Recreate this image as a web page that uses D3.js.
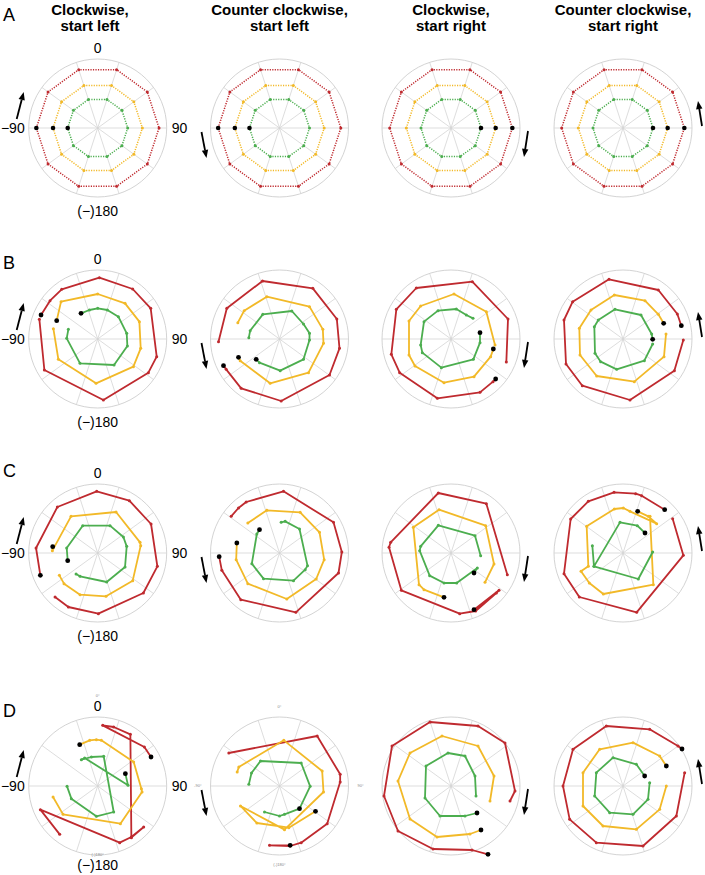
<!DOCTYPE html>
<html><head><meta charset="utf-8">
<script src="https://cdn.jsdelivr.net/npm/d3@7"></script>
<style>body{margin:0;background:#fff}text{font-family:Arial,"Liberation Sans",Helvetica,sans-serif}</style>
</head><body>
<svg id="c" width="705" height="875"></svg>
<script>
// ---------- DATA ----------
const columnTitles = [["Clockwise,","start left"],["Counter clockwise,","start left"],["Clockwise,","start right"],["Counter clockwise,","start right"]];
const rowLetters = ["A","B","C","D"];
const axisLabels = {top:"0", left:"\u221290", right:"90", bottom:"(\u2212)180"};
const tinyLabels = {top:"0\u00b0", left:"-90\u00b0", right:"90\u00b0", bottom:"(-)180\u00b0"};
// targets (deg, 0 = up, clockwise positive) and ring eccentricities (deg)
const targetAngles = [-90,-54,-18,18,54,90,126,162,198,234];
const ringRadius = {red:18.4, yellow:13.4, green:9.0};
const startAngleA = [-90,-90,90,90];
// gaze traces (x,y in deg; first point = start, unless start index given)
const B1 = {
 red:[[-17.0,7.2],[-14.3,11.5],[-10.8,14.9],[0.5,18.4],[10.5,15.0],[15.9,9.2],[17.7,-5.3],[15.2,-10.1],[1.7,-18.3],[-16.0,-9.3],[-17.5,5.9]],
 yellow:[[-12.3,5.5],[-11.0,11.2],[0,13.5],[8.2,10.7],[12.5,5.2],[12.9,-2.8],[10.7,-8.3],[-0.5,-13.3],[-11.8,-6.1],[-13.3,3.1]],
 green:[[-5.0,7.7],[-2.5,8.7],[0,9.2],[2.9,8.7],[6.2,6.7],[8.7,1.7],[8.9,-2.1],[4.9,-7.8],[-5.3,-7.3],[-9.3,0.2],[-8.8,2.9]]
};
const B2 = {
 red:[[-16.8,-8.0],[-16.0,-9.1],[-11.5,-14.8],[0.5,-18.6],[15.0,-10.8],[18.0,-2.8],[17.2,6.0],[10.0,15.2],[-5.1,17.4],[-15.8,9.2],[-18.3,-0.8]],
 yellow:[[-12.3,-5.5],[-11.8,-6.5],[-2.8,-13.3],[8.7,-10.1],[13.2,-1.3],[13.0,2.9],[9.0,9.7],[-3.8,12.7],[-10.6,8.5],[-12.5,4.9]],
 green:[[-7.0,-6.1],[-6.0,-7.1],[0.2,-9.5],[7.2,-6.1],[9.0,-0.3],[9.0,1.7],[7.2,4.5],[3.7,8.4],[-5.0,7.4],[-8.8,2.5],[-9.2,0.4]]
};
const B3 = {
 red:[[13.4,-12.0],[12.6,-12.8],[8.7,-16.0],[-4.1,-17.8],[-15.4,-10.1],[-17.9,-4.6],[-16.4,8.9],[-10.4,15.3],[6.4,17.2],[17.1,6.0],[16.6,-6.9]],
 yellow:[[12.7,-3.0],[11.9,-5.3],[6.9,-11.3],[-2.1,-13.1],[-10.8,-8.1],[-12.6,-4.8],[-12.6,5.4],[-9.1,9.9],[0.9,13.5],[10.6,8.2],[13.2,-1.8]],
 green:[[8.7,1.9],[8.7,-1.1],[6.7,-6.1],[-2.9,-8.6],[-8.6,-4.1],[-9.1,-1.8],[-8.1,5.2],[-3.9,8.5],[1.6,9.0],[4.6,7.2],[6.6,6.2]]
};
const B4 = {
 red:[[17.5,4.0],[16.3,7.5],[10.6,14.7],[-4.2,17.9],[-15.1,11.2],[-17.7,5.7],[-17.1,-7.5],[-12.2,-14.0],[2.1,-18.3],[15.4,-9.5],[18.1,-0.3]],
 yellow:[[12.2,4.7],[10.6,7.4],[6.6,11.5],[-2.6,13.2],[-9.6,8.7],[-13.1,3.2],[-12.9,-4.8],[-7.9,-11.1],[3.4,-12.8],[12.3,-5.3],[12.9,1.5]],
 green:[[8.9,-0.1],[8.6,1.5],[5.4,7.2],[-2.4,8.9],[-7.4,5.7],[-8.6,3.7],[-8.4,-4.3],[-6.7,-6.8],[-1.9,-9.1],[6.4,-6.5],[8.9,-1.5]]
};
const C1 = {
 red:[[-17.2,-6.7],[-18.5,1.5],[-12.1,13.8],[-0.3,18.5],[9.5,15.7],[16.0,8.7],[17.9,-4.0],[13.7,-12.0],[0.2,-18.2],[-8.8,-16.2],[-12.8,-13.2]],
 yellow:[[-13.5,1.9],[-13.6,0.7],[-8.0,11.0],[5.5,12.3],[12.7,3.2],[12.9,2.2],[10.5,-8.3],[2.5,-13.0],[-5.3,-12.5],[-10.1,-9.2],[-11.5,-6.7]],
 green:[[-9.0,-2.3],[-9.3,1.5],[-4.5,8.2],[3.7,8.2],[7.7,4.8],[8.7,2.0],[8.2,-4.2],[2.7,-8.7],[-5.3,-7.0],[-6.5,-6.3]]
};
const C2 = {
 red:[[-18.1,-1.1],[-17.3,-5.2],[-11.6,-14.0],[4.9,-17.8],[17.7,-6.0],[18.7,0.3],[16.2,9.2],[1.2,18.5],[-10.0,15.3],[-12.3,13.5],[-14.5,11.0]],
 yellow:[[-12.8,3.0],[-13.0,-2.0],[-9.5,-9.2],[2.2,-13.8],[11.0,-7.8],[13.4,-2.0],[12.0,6.2],[6.2,12.2],[-3.8,12.8],[-9.5,9.0]],
 green:[[-6.0,7.0],[-6.8,5.7],[-8.3,-3.2],[-4.8,-7.7],[4.2,-8.3],[7.7,-5.0],[8.4,-3.8],[6.0,7.2],[1.7,9.5],[0.5,9.2]]
};
const C3 = {
 red:[[6.9,-17.0],[14.4,-11.2],[13.6,-12.0],[7.4,-17.4],[2.6,-18.2],[-14.9,-11.2],[-18.6,1.7],[-18.1,3.2],[-3.8,18.0],[10.6,14.8],[16.9,-6.5]],
 yellow:[[-2.1,-13.3],[-8.1,-11.0],[-9.6,-9.5],[-11.3,7.7],[-3.6,13.0],[10.4,8.2],[12.9,-3.3],[10.2,-8.8]],
 green:[[6.9,-6.0],[7.9,-4.5],[1.7,-9.0],[-2.1,-9.0],[-6.4,-6.8],[-9.4,0.7],[-9.1,2.0],[-3.8,8.3],[7.2,5.2],[8.9,-0.8]]
};
const C4 = {
 red:[[12.5,13.0],[5.6,17.2],[3.8,17.8],[-2.7,18.2],[-10.4,15.5],[-15.7,10.2],[-17.7,-6.2],[-13.1,-13.2],[4.1,-17.8],[18.1,-0.7],[14.9,10.3]],
 yellow:[[4.4,12.5],[7.6,11.0],[10.1,8.8],[2.1,12.5],[0.1,13.5],[-2.6,13.2],[-10.9,8.0],[-10.4,-4.0],[-12.6,-5.5],[-10.1,-9.0],[-5.9,-12.3],[9.1,-9.5],[8.1,11.0]],
 green:[[6.6,6.0],[4.3,8.2],[-0.9,9.2],[-8.7,-4.0],[-9.2,2.2],[-8.7,-4.0],[4.6,-7.8],[8.9,0.3]]
};
const D1 = {
 red:[[16.0,8.7],[14.0,11.7],[1.5,18.2],[4.8,17.7],[9.8,15.5],[10.1,-15.5],[13.8,-12.3],[10.1,-15.3],[6.6,-17.0],[-17.2,-7.1],[-11.4,-14.5]],
 yellow:[[-5.4,12.4],[-2.4,13.7],[-0.4,13.9],[1.1,13.7],[10.8,7.2],[13.1,-0.8],[13.3,-1.8],[6.8,-11.3],[-10.4,-8.5],[-13.4,-3.3]],
 green:[[8.3,3.7],[9.1,0.2],[-3.9,8.4],[-4.9,7.9],[-1.9,8.7],[1.8,8.9],[4.8,-7.8],[-0.4,-9.1],[-7.9,-3.8],[-9.2,-0.1]]
};
const D2 = {
 red:[[3.2,-17.8],[-3.0,-17.8],[3.2,-18.0],[6.5,-17.0],[14.3,-11.3],[18.2,1.2],[18.2,3.5],[11.3,15.0],[-15.2,9.9]],
 yellow:[[10.8,-7.6],[2.8,-12.5],[-6.8,-11.1],[-11.7,-6.0],[1.5,-13.1],[13.2,-1.8],[12.8,4.5],[1.3,13.7],[-12.2,5.7],[-12.7,4.2]],
 green:[[-4.5,-7.8],[0,-9.0],[1.5,-8.5],[6.0,-6.8],[9.2,-0.1],[6.5,6.9],[-5.7,7.5],[-8.4,3.9],[-9.2,0.5]],
 start:{green:3}
};
const D3 = {
 red:[[11.1,-20.5],[6.3,-19.2],[-5.4,-18.9],[-15.9,-13.5],[-20.1,-3.0],[-17.7,12.0],[-6.3,19.2],[8.1,18.0],[16.2,12.9],[19.2,-1.5],[17.7,-4.5]],
 yellow:[[9.0,-13.2],[5.7,-14.4],[-4.2,-15.3],[-12.3,-9.9],[-15.9,1.5],[-12.3,9.9],[-2.7,15.0],[8.1,12.0],[12.9,3.0],[11.7,-4.5]],
 green:[[7.8,-8.1],[4.2,-9.0],[-3.3,-9.0],[-7.8,-3.6],[-7.5,6.0],[-0.9,9.9],[4.2,9.0],[7.2,3.0],[7.5,-3.0]]
};
const D4 = {
 red:[[17.7,11.1],[16.5,12.0],[8.0,17.0],[-5.0,18.0],[-15.0,11.0],[-18.0,0.0],[-16.0,-10.0],[-8.0,-17.0],[6.0,-18.0],[16.0,-9.0],[18.5,4.0]],
 yellow:[[13.0,6.0],[11.0,9.0],[3.0,13.0],[-7.0,11.0],[-12.0,4.0],[-12.0,-6.0],[-6.0,-12.0],[4.0,-13.0],[11.0,-7.0],[13.0,0.0]],
 green:[[6.5,3.0],[4.0,6.5],[-3.0,8.5],[-8.0,4.0],[-8.5,-3.0],[-4.0,-8.0],[3.0,-8.5],[7.5,-4.0],[8.0,1.0]]
};
const traceRows = [[B1,B2,B3,B4],[C1,C2,C3,C4],[D1,D2,D3,D4]];

// ---------- LAYOUT / STYLE ----------
const colors = {red:"#bf2a2f", yellow:"#f2b928", green:"#4cae4f"};
const colX = [97.7, 279.5, 451, 623];
const rowY = [128, 339, 553, 786];
const letterPos = [[3,21],[3,269],[3,477],[3,717]];
const bottomLabelOffset = [88, 88, 88, 84];
const R = 20.7;
const spokeAngles = d3.range(18, 360, 36);

const svg = d3.select("#c");

columnTitles.forEach((t,i)=>{
  const cxT = i===0 ? 90 : colX[i];
  t.forEach((s,j)=>svg.append("text").attr("x",cxT).attr("y",15+j*15.5)
    .attr("text-anchor","middle").attr("font-size",15).attr("font-weight","bold").text(s));
});
rowLetters.forEach((l,i)=>svg.append("text").attr("x",letterPos[i][0]).attr("y",letterPos[i][1])
  .attr("font-size",18).text(l));

function makeScales(ci, ri){
  const cx=colX[ci], cy=rowY[ri];
  return {cx, cy,
    x:d3.scaleLinear().domain([-21,21]).range([cx-70,cx+70]),
    y:d3.scaleLinear().domain([-21,21]).range([cy+70,cy-70])};
}
const polar = (a,r)=>[r*Math.sin(a*Math.PI/180), r*Math.cos(a*Math.PI/180)];

function grid(g, s){
  g.append("circle").attr("cx",s.x(0)).attr("cy",s.y(0)).attr("r",s.x(R)-s.x(0))
   .attr("fill","none").attr("stroke","#c8c8c8").attr("stroke-width",0.8);
  spokeAngles.forEach(a=>{
    const p=polar(a,R);
    g.append("line").attr("x1",s.x(0)).attr("y1",s.y(0)).attr("x2",s.x(p[0])).attr("y2",s.y(p[1]))
     .attr("stroke","#d4d4d4").attr("stroke-width",0.8);
  });
}
function arrow(g, s, ci){
  let t,h;
  if(ci===0){t=[-81,-9];h=[-74,-36];}
  else if(ci===1){t=[-78,4];h=[-73,30];}
  else if(ci===2){t=[77,3];h=[73,29];}
  else {t=[79,-2];h=[75,-27];}
  const x1=s.cx+t[0], y1=s.cy+t[1], x2=s.cx+h[0], y2=s.cy+h[1];
  const ang=Math.atan2(y2-y1,x2-x1), L=8, W=3.2;
  const bx=x2-L*Math.cos(ang), by=y2-L*Math.sin(ang);
  g.append("line").attr("x1",x1).attr("y1",y1).attr("x2",bx).attr("y2",by).attr("stroke","#000").attr("stroke-width",1.8);
  const px=-Math.sin(ang)*W, py=Math.cos(ang)*W;
  g.append("path").attr("d",`M${x2},${y2}L${bx+px},${by+py}L${bx-px},${by-py}Z`).attr("fill","#000");
}
function axisText(g, s, ri){
  const fs=14;
  g.append("text").attr("x",s.cx).attr("y",s.cy-75).attr("text-anchor","middle").attr("font-size",fs).text(axisLabels.top);
  g.append("text").attr("x",s.cx-73).attr("y",s.cy+5).attr("text-anchor","end").attr("font-size",fs).text(axisLabels.left);
  g.append("text").attr("x",s.cx+74).attr("y",s.cy+5).attr("text-anchor","start").attr("font-size",fs).text(axisLabels.right);
  g.append("text").attr("x",s.cx).attr("y",s.cy+bottomLabelOffset[ri]).attr("text-anchor","middle").attr("font-size",fs).text(axisLabels.bottom);
}
function tinyText(g, s, full){
  const st=t=>t.attr("font-size",4).attr("fill","#888");
  if(full){
    st(g.append("text").attr("x",s.cx).attr("y",s.cy-78).attr("text-anchor","middle").text(tinyLabels.top));
    st(g.append("text").attr("x",s.cx-78).attr("y",s.cy+1).attr("text-anchor","end").text(tinyLabels.left));
    st(g.append("text").attr("x",s.cx+78).attr("y",s.cy+1).attr("text-anchor","start").text(tinyLabels.right));
    st(g.append("text").attr("x",s.cx).attr("y",s.cy+80).attr("text-anchor","middle").text(tinyLabels.bottom));
  } else {
    st(g.append("text").attr("x",s.cx).attr("y",s.cy-89.2).attr("text-anchor","middle").text(tinyLabels.top));
    st(g.append("text").attr("x",s.cx).attr("y",s.cy+70.2).attr("text-anchor","middle").text(tinyLabels.bottom));
  }
}

// Row A
for(let ci=0; ci<4; ci++){
  const s=makeScales(ci,0), g=svg.append("g");
  grid(g,s);
  const line=d3.line().x(d=>s.x(d[0])).y(d=>s.y(d[1])).curve(d3.curveLinearClosed);
  ["red","yellow","green"].forEach(c=>{
    const pts=targetAngles.map(a=>polar(a,ringRadius[c]));
    g.append("path").attr("d",line(pts)).attr("fill","none").attr("stroke",colors[c])
      .attr("stroke-width",1.5).attr("stroke-dasharray","1.2,1.3");
    g.selectAll(null).data(pts).join("circle").attr("cx",d=>s.x(d[0])).attr("cy",d=>s.y(d[1])).attr("r",1.5).attr("fill",colors[c]);
  });
  ["red","yellow","green"].forEach(c=>{
    const p=polar(startAngleA[ci],ringRadius[c]);
    g.append("circle").attr("cx",s.x(p[0])).attr("cy",s.y(p[1])).attr("r",2.3).attr("fill","#000");
  });
  arrow(g,s,ci);
  if(ci===0) axisText(g,s,0);
}
// Rows B-D
traceRows.forEach((row,ri)=>{
  row.forEach((tr,ci)=>{
    const s=makeScales(ci,ri+1), g=svg.append("g");
    grid(g,s);
    const line=d3.line().x(d=>s.x(d[0])).y(d=>s.y(d[1]));
    ["red","yellow","green"].forEach(c=>{
      const pts=tr[c];
      g.append("path").attr("d",line(pts)).attr("fill","none").attr("stroke",colors[c])
        .attr("stroke-width",1.8).attr("stroke-linejoin","round");
      g.selectAll(null).data(pts).join("circle").attr("cx",d=>s.x(d[0])).attr("cy",d=>s.y(d[1])).attr("r",1.5).attr("fill",colors[c]);
    });
    ["red","yellow","green"].forEach(c=>{
      const si=(tr.start&&tr.start[c]!==undefined)?tr.start[c]:0;
      const p=tr[c][si];
      g.append("circle").attr("cx",s.x(p[0])).attr("cy",s.y(p[1])).attr("r",2.4).attr("fill","#000");
    });
    arrow(g,s,ci);
    if(ci===0) axisText(g,s,ri+1);
    if(ri===2 && ci===0) tinyText(g,s,false);
    if(ri===2 && ci===1) tinyText(g,s,true);
  });
});
</script>
</body></html>
